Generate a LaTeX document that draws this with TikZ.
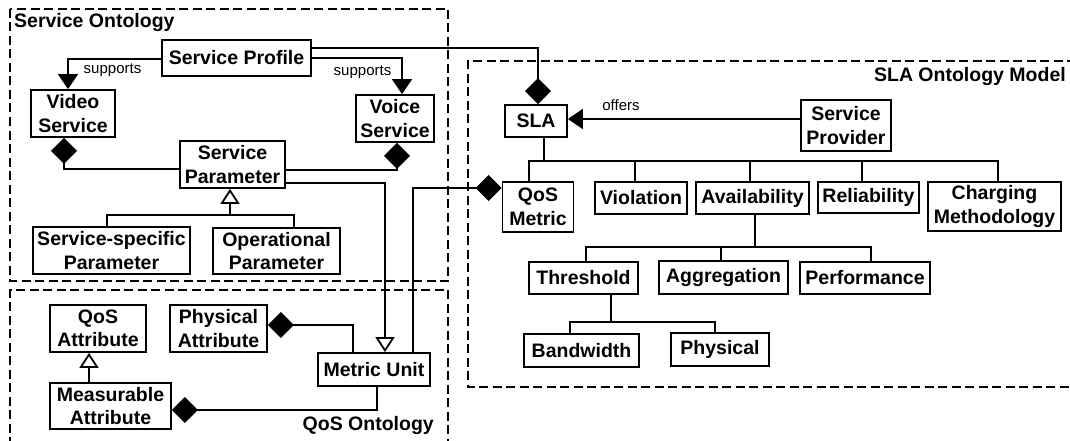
\documentclass[tikz,border=0pt]{standalone}
\usepackage{fontspec}
\setmainfont{Liberation Sans}
\usetikzlibrary{arrows.meta}
\begin{document}
\begin{tikzpicture}[x=1pt,y=-1pt,
 box/.style={draw, line width=1.8pt, inner sep=0pt, align=center, font=\fontsize{19.5}{23.5}\selectfont\bfseries},
 ln/.style={line width=1.8pt},
 sup/.style={ln, -{Triangle[width=20pt,length=15pt]}},
 compo/.style={ln, -{Diamond[width=26pt,length=26pt]}},
 gen/.style={ln, -{Triangle[open,width=19pt,length=15pt,fill=white]}},
 region/.style={line width=1.7pt, dash pattern=on 9pt off 4.5pt},
 lbl/.style={font=\fontsize{15}{18}\selectfont, inner sep=0pt},
 ttl/.style={font=\fontsize{19.5}{23.5}\selectfont\bfseries, inner sep=0pt}]
\useasboundingbox (0,0) rectangle (1070,441);
% regions
\draw[region] (10,9) rectangle (448,281);
\draw[region] (10,446) -- (10,290) -- (448,290) -- (448,446);
\draw[region] (1076,61) -- (468,61) -- (468,387) -- (1076,387);
\node[ttl, anchor=west] (tso) at (14,23) {Service Ontology};
\node[ttl, anchor=east] (tsla) at (1066,77) {SLA Ontology Model};
\node[ttl, anchor=east] (tqos) at (434,425) {QoS Ontology};
% service ontology nodes
\node[box, minimum width=149pt, minimum height=36pt] (sprof) at (236.5,58) {Service Profile};
\node[box, minimum width=84pt, minimum height=47pt] (video) at (73,113.5) {Video\\Service};
\node[box, minimum width=78pt, minimum height=47pt] (voice) at (395,118.5) {Voice\\Service};
\node[box, minimum width=105pt, minimum height=47pt] (spar) at (232.5,164.5) {Service\\Parameter};
\node[box, minimum width=157pt, minimum height=47pt] (sspec) at (111.5,250.5) {Service-specific\\Parameter};
\node[box, minimum width=127pt, minimum height=46pt] (oper) at (276.5,251) {Operational\\Parameter};
% SLA nodes
\node[box, minimum width=62pt, minimum height=32pt] (sla) at (536,121) {SLA};
\node[box, minimum width=90pt, minimum height=51pt] (sprov) at (846,125.5) {Service\\Provider};
\node[box, minimum width=71pt, minimum height=50pt] (qosm) at (538,207) {QoS\\Metric};
\node[box, minimum width=92pt, minimum height=32pt] (viol) at (641,198) {Violation};
\node[box, minimum width=113pt, minimum height=32pt] (avail) at (752.5,198) {Availability};
\node[box, minimum width=101pt, minimum height=31pt] (rel) at (868.5,197.5) {Reliability};
\node[box, minimum width=133pt, minimum height=49pt] (charg) at (994.5,206.5) {Charging\\Methodology};
\node[box, minimum width=109pt, minimum height=32pt] (thr) at (583.5,278) {Threshold};
\node[box, minimum width=129pt, minimum height=33pt] (aggr) at (723.5,277.5) {Aggregation};
\node[box, minimum width=130pt, minimum height=32pt] (perf) at (865,278) {Performance};
\node[box, minimum width=115pt, minimum height=33pt] (band) at (581.5,350.5) {Bandwidth};
\node[box, minimum width=98pt, minimum height=33pt] (phys) at (720,349.5) {Physical};
% QoS nodes
\node[box, minimum width=96pt, minimum height=47pt] (qosa) at (98,328.5) {QoS\\Attribute};
\node[box, minimum width=97pt, minimum height=47pt] (physa) at (218.5,328.5) {Physical\\Attribute};
\node[box, minimum width=112pt, minimum height=33pt] (mu) at (374,369.5) {Metric Unit};
\node[box, minimum width=121pt, minimum height=46pt] (meas) at (110.5,406) {Measurable\\Attribute};
% labels
\node[lbl] (lsup1) at (112.5,70) {supports};
\node[lbl] (lsup2) at (362.5,72) {supports};
\node[lbl] (loff) at (621,105) {offers};
% bend coordinates
\coordinate (xv) at (68,59);
\coordinate (xw) at (402,58);
\coordinate (xs) at (538,48);
\coordinate (xv2) at (64,169);
\coordinate (xw2) at (397,170);
\coordinate (xm) at (385,183);
\coordinate (xo) at (0,119);
\coordinate (xq) at (413,188);
\coordinate (xp) at (353,325);
\coordinate (xe) at (377,410);
\coordinate (xa) at (89,0);
\coordinate (g0) at (230,215);
\coordinate (gs) at (107,215);
\coordinate (go) at (294,215);
\coordinate (b0) at (544,161);
\coordinate (bq) at (529,161);
\coordinate (bv) at (635,161);
\coordinate (ba) at (750,161);
\coordinate (br) at (862,161);
\coordinate (bc) at (998,161);
\coordinate (a0) at (755,247);
\coordinate (at) at (586,247);
\coordinate (ag) at (721,247);
\coordinate (ap) at (871,247);
\coordinate (t0) at (611,322);
\coordinate (tb) at (570,322);
\coordinate (tp) at (715,322);
% service ontology connectors
\draw[sup] (sprof.west |- xv) -| (video.north -| xv);
\draw[sup] (sprof.east |- xw) -| (voice.north -| xw);
\draw[compo] (sprof.east |- xs) -| (sla.north -| xs);
\draw[compo] (spar.west |- xv2) -| (video.south -| xv2);
\draw[compo] (spar.east |- xw2) -| (voice.south -| xw2);
\draw[gen] (spar.east |- xm) -| (mu.north -| xm);
\draw[gen] (g0) -- (spar.south -| g0);
\draw[ln] (sspec.north -| gs) -- (gs) -- (go) -- (oper.north -| go);
% SLA connectors
\draw[sup] (sprov.west |- xo) -- (sla.east |- xo);
\draw[ln] (sla.south -| b0) -- (b0);
\draw[ln] (qosm.north -| bq) -- (bq) -- (bc) -- (charg.north -| bc);
\draw[ln] (bv) -- (viol.north -| bv);
\draw[ln] (ba) -- (avail.north -| ba);
\draw[ln] (br) -- (rel.north -| br);
\draw[ln] (avail.south -| a0) -- (a0);
\draw[ln] (thr.north -| at) -- (at) -- (ap) -- (perf.north -| ap);
\draw[ln] (ag) -- (aggr.north -| ag);
\draw[ln] (thr.south -| t0) -- (t0);
\draw[ln] (band.north -| tb) -- (tb) -- (tp) -- (phys.north -| tp);
% QoS connectors
\draw[compo] (mu.north -| xq) |- (qosm.west |- xq);
\draw[compo] (mu.north -| xp) |- (physa.east |- xp);
\draw[compo] (mu.south -| xe) |- (meas.east |- xe);
\draw[gen] (meas.north -| xa) -- (qosa.south -| xa);
\end{tikzpicture}
\end{document}
